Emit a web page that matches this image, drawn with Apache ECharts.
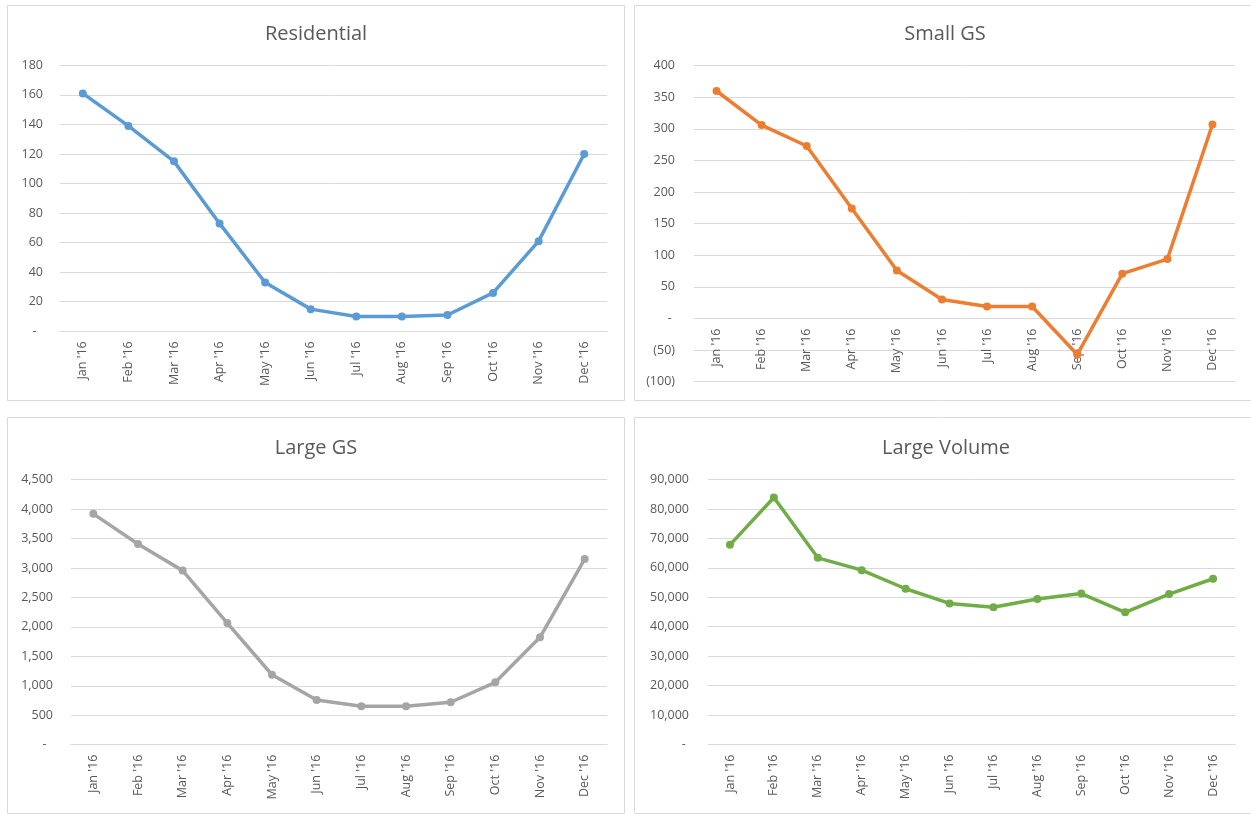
<!DOCTYPE html>
<html>
<head>
<meta charset="utf-8">
<script src="https://cdn.jsdelivr.net/npm/echarts@6/dist/echarts.min.js"></script>
<style>
  html, body { margin: 0; padding: 0; background: #ffffff; }
  #chart { width: 1251px; height: 827px; }
</style>
</head>
<body>
<div id="chart"></div>
<script>
// Monthly figures for 2016, one series per customer class
const months = ["Jan '16", "Feb '16", "Mar '16", "Apr '16", "May '16", "Jun '16",
                "Jul '16", "Aug '16", "Sep '16", "Oct '16", "Nov '16", "Dec '16"];

const residential = [161, 139, 115, 73, 33, 15, 10, 10, 11, 26, 61, 120];
const smallGS = [360, 306, 273, 174, 76, 30, 19, 19, -57, 71, 94, 307];
const largeGS = [3920, 3407, 2956, 2066, 1188, 760, 653, 653, 721, 1059, 1824, 3153];
const largeVolume = [67800, 83900, 63400, 59200, 52900, 47900, 46600, 49400, 51250, 44900, 51100, 56300];

const panelTitles = ['Residential', 'Small GS', 'Large GS', 'Large Volume'];
const seriesColors = ['#5B9BD5', '#ED7D31', '#A5A5A5', '#70AD47'];

const textColor = '#595959';
const gridColor = '#D9D9D9';
const fontFamily = '"Open Sans", "Liberation Sans", sans-serif';

// Accounting-style tick labels: dash for zero, parentheses for negatives
function accounting(dashPad) {
  return function (v) {
    if (v === 0) return '-' + dashPad;
    const s = Math.abs(v).toLocaleString('en-US');
    return v < 0 ? '(' + s + ')' : s;
  };
}

const grids = [
  { left: 60, top: 65.3, width: 547, height: 266 },
  { left: 694, top: 65.7, width: 541, height: 316 },
  { left: 71, top: 479.7, width: 536, height: 265 },
  { left: 708, top: 479.5, width: 527, height: 265 }
];

const yRanges = [
  { min: 0, max: 180, interval: 20, pad: '  ', margin: 17 },
  { min: -100, max: 400, interval: 50, pad: ' ', margin: 19 },
  { min: 0, max: 4500, interval: 500, pad: '  ', margin: 18 },
  { min: 0, max: 90000, interval: 10000, pad: ' ', margin: 19 }
];

const seriesData = [residential, smallGS, largeGS, largeVolume];

const titleCenters = [[316, 31], [945, 31], [316, 445], [946, 445]];

const panels = [
  { x: 7.5, y: 5.5, w: 617, h: 395 },
  { x: 634.5, y: 5.5, w: 625, h: 395 },
  { x: 7.5, y: 417.5, w: 617, h: 396 },
  { x: 634.5, y: 417.5, w: 625, h: 396 }
];

// The category axis sits on the zero line; lift it above the grid bottom
// by the share of the value range that lies below zero.
function zeroLift(i) {
  const r = yRanges[i];
  if (r.min >= 0) return 0;
  return -grids[i].height * (0 - r.min) / (r.max - r.min);
}

const titleSize = 20;

const option = {
  backgroundColor: '#ffffff',
  animation: false,
  textStyle: { fontFamily: fontFamily },
  title: panelTitles.map((t, i) => ({
    text: t,
    left: titleCenters[i][0],
    top: titleCenters[i][1] - 7,
    textAlign: 'center',
    padding: 0,
    textStyle: { color: textColor, fontSize: titleSize, fontWeight: 'normal', fontFamily: fontFamily }
  })),
  graphic: panels.map(p => ({
    type: 'rect',
    silent: true,
    z: -1,
    shape: { x: p.x, y: p.y, width: p.w, height: p.h },
    style: { fill: 'none', stroke: gridColor, lineWidth: 1 }
  })),
  grid: grids.map(g => Object.assign({ containLabel: false }, g)),
  xAxis: grids.map((g, i) => ({
    type: 'category',
    gridIndex: i,
    data: months,
    boundaryGap: true,
    position: 'bottom',
    offset: zeroLift(i),
    axisLine: { show: true, onZero: false, lineStyle: { color: gridColor, width: 1 } },
    axisTick: { show: false },
    splitLine: { show: false },
    axisLabel: {
      rotate: 90,
      interval: 0,
      margin: 10,
      color: textColor,
      fontSize: 12.5,
      fontFamily: fontFamily
    }
  })),
  yAxis: yRanges.map((r, i) => ({
    type: 'value',
    gridIndex: i,
    min: r.min,
    max: r.max,
    interval: r.interval,
    axisLine: { show: false },
    axisTick: { show: false },
    splitLine: { show: true, lineStyle: { color: gridColor, width: 1 } },
    axisLabel: {
      margin: r.margin,
      color: textColor,
      fontSize: 12.5,
      fontFamily: fontFamily,
      formatter: accounting(r.pad)
    }
  })),
  series: seriesData.map((d, i) => ({
    type: 'line',
    name: panelTitles[i],
    xAxisIndex: i,
    yAxisIndex: i,
    data: d,
    symbol: 'circle',
    symbolSize: 8,
    showSymbol: true,
    lineStyle: { color: seriesColors[i], width: 3.5 },
    itemStyle: { color: seriesColors[i] },
    z: 3
  }))
};

const chart = echarts.init(document.getElementById('chart'), null, { renderer: 'canvas' });
chart.setOption(option);
</script>
</body>
</html>
